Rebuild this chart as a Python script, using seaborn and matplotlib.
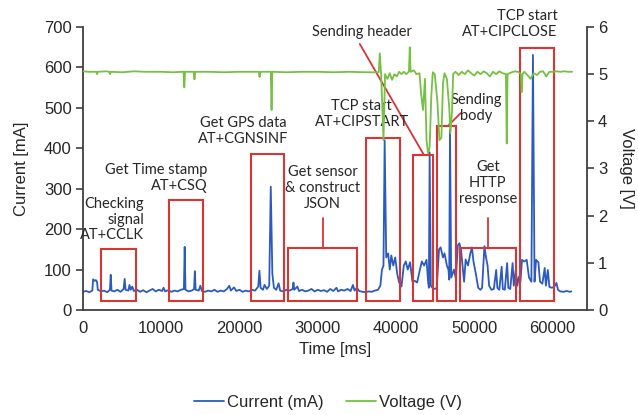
import matplotlib
matplotlib.use("Agg")
import matplotlib.pyplot as plt
from matplotlib.patches import Rectangle
import seaborn as sns
import pandas as pd

# --- measured current trace (time in ms, current in mA) ---
current_time = [
    0, 400, 800, 1200, 1300, 1500, 1650, 1800, 1900, 2300, 2700, 3100, 3450, 3550, 3650,
    4000, 4400, 4800, 5200, 5330, 5450, 5800, 5950, 6100, 6300, 6500, 6900, 7300, 7700,
    8100, 8500, 8900, 9300, 9700, 10100, 10300, 10500, 10900, 11300, 11700, 12100, 12500,
    12900, 13000, 13100, 13500, 13900, 14200, 14300, 14400, 14800, 15000, 15200, 15600,
    16000, 16400, 16800, 17200, 17600, 18000, 18400, 18700, 18900, 19300, 19600, 20000,
    20400, 20800, 21200, 21600, 22000, 22400, 22550, 22700, 23000, 23200, 23500, 23800,
    24000, 24200, 24400, 24700, 25000, 25200, 25600, 26000, 26400, 26800, 26900, 27000,
    27400, 27600, 28000, 28400, 28800, 29200, 29600, 30000, 30400, 30800, 31200, 31600,
    32000, 32400, 32600, 33000, 33400, 33800, 34200, 34500, 34700, 35000, 35300, 35700,
    36100, 36500, 36900, 37300, 37700, 38000, 38200, 38400, 38550, 38750, 39000, 39200,
    39400, 39650, 39900, 40150, 40400, 40700, 41000, 41250, 41500, 41800, 42100, 42400,
    42700, 43000, 43300, 43600, 43900, 44100, 44200, 44300, 44450, 44650, 44900, 45200,
    45500, 45700, 46000, 46200, 46500, 46700, 46800, 46900, 47050, 47400, 47650, 47900,
    48100, 48300, 48500, 48700, 48900, 49200, 49500, 49700, 49900, 50200, 50500, 50800,
    51000, 51300, 51500, 51700, 51900, 52200, 52500, 52800, 52950, 53200, 53500, 53650,
    53900, 54200, 54350, 54600, 54900, 55050, 55300, 55500, 55700, 55900, 56100, 56400,
    56700, 57000, 57300, 57500, 57700, 57900, 58200, 58400, 58700, 59000, 59150, 59400,
    59600, 59900, 60200, 60500, 60700, 61000, 61400, 61800, 62200, 62400,
]
current_ma = [
    45, 47, 44, 48, 76, 72, 74, 70, 50, 46, 48, 44, 50, 87, 48,
    46, 50, 45, 52, 77, 50, 48, 62, 50, 58, 47, 50, 45, 49,
    44, 48, 52, 46, 50, 47, 55, 46, 49, 45, 48, 46, 50,
    52, 156, 50, 46, 48, 52, 96, 50, 48, 60, 47, 45,
    48, 46, 50, 45, 48, 46, 52, 60, 48, 56, 47, 50,
    45, 48, 46, 50, 48, 58, 97, 55, 50, 62, 52, 60,
    305, 90, 55, 50, 66, 48, 46, 50, 48, 52, 68, 50,
    58, 47, 50, 46, 48, 52, 46, 50, 47, 49, 45, 52,
    47, 55, 46, 50, 48, 52, 47, 62, 48, 55, 47, 45,
    44, 46, 45, 48, 50, 60, 99, 110, 420, 130, 140, 100,
    135, 110, 130, 90, 68, 58, 110, 120, 100, 118, 70, 72,
    68, 95, 120, 110, 124, 70, 55, 390, 60, 55, 52, 54,
    150, 155, 130, 140, 110, 100, 75, 445, 80, 100, 78, 160,
    165, 150, 110, 70, 125, 110, 140, 155, 120, 90, 55, 50,
    55, 158, 130, 110, 60, 50, 52, 99, 55, 50, 107, 52,
    50, 116, 55, 52, 116, 60, 99, 60, 82, 70, 124, 120,
    124, 80, 70, 631, 70, 124, 118, 70, 65, 104, 60, 99,
    57, 55, 57, 67, 50, 46, 45, 47, 45, 46,
]

# --- measured supply voltage trace (time in ms, voltage in V) ---
voltage_time = [
    0, 800, 1700, 1800, 1900, 3000, 3360, 3460, 3560, 5000, 6500, 8000, 10000, 11500,
    12850, 12950, 13050, 14150, 14250, 14350, 16000, 18000, 20000, 22470, 22570, 22670,
    24000, 24100, 24200, 26000, 28000, 30000, 32000, 34000, 36000, 37800, 37930, 38100,
    38400, 38600, 38900, 39200, 39500, 39800, 40100, 40400, 40700, 41000, 41300, 41650,
    41760, 41870, 42300, 42600, 43000, 43200, 43450, 43700, 43900, 44100, 44300, 44500,
    44700, 44950, 45300, 45550, 45800, 46000, 46200, 46500, 46800, 46950, 47150, 47300,
    47600, 48000, 48400, 48800, 49200, 49600, 50000, 50400, 50800, 51200, 51600, 52000,
    52400, 52800, 53200, 53600, 54050, 54150, 54250, 54800, 55200, 55600, 55960, 56060,
    56160, 56400, 56800, 57200, 57600, 58000, 58400, 58800, 59200, 59600, 60000, 60500,
    61000, 61500, 62000, 62500,
]
voltage_v = [
    5.06, 5.05, 5.05, 5.00, 5.05, 5.06, 5.05, 5.00, 5.05, 5.04, 5.06, 5.05, 5.05, 5.04,
    5.05, 4.72, 5.05, 5.05, 4.89, 5.05, 5.05, 5.04, 5.05, 5.05, 4.94, 5.05,
    5.05, 4.24, 5.05, 5.04, 5.05, 5.05, 5.04, 5.05, 5.04, 5.04, 5.44, 5.00,
    3.60, 5.00, 4.90, 5.02, 4.88, 5.00, 4.95, 5.05, 5.00, 5.05, 5.00, 5.05,
    5.57, 5.05, 5.08, 5.00, 5.02, 4.60, 4.24, 4.90, 3.60, 3.32, 3.45, 4.50,
    5.04, 5.00, 4.40, 3.60, 3.65, 4.80, 5.02, 4.90, 4.30, 3.75, 4.20, 5.00,
    5.05, 4.98, 5.05, 5.00, 5.08, 5.02, 4.97, 5.05, 5.00, 5.06, 5.02, 4.95,
    5.05, 5.00, 5.06, 5.02, 5.00, 3.53, 5.00, 5.04, 5.06, 5.05, 5.00, 4.62,
    5.00, 5.05, 4.98, 4.90, 5.02, 4.98, 5.05, 5.06, 4.95, 5.05, 5.05, 5.06,
    5.05, 5.06, 5.05, 5.05,
]

# --- firmware phases: label, start (ms), end (ms), box top (mA) ---
phase_names = ["Checking signal", "Get Time stamp", "Get GPS data", "Get sensor",
               "TCP start", "Sending header", "Sending body", "HTTP response", "TCP close"]
phase_start = [2300, 10980, 21450, 26180, 36140, 42140, 45210, 48140, 55800]
phase_end = [6770, 15320, 25670, 34990, 40480, 44700, 47630, 55290, 60150]
phase_top = [150, 272, 386, 153, 426, 384, 455, 153, 649]
phase_floor = 22

x_ticks = [0, 10000, 20000, 30000, 40000, 50000, 60000]
current_ticks = [0, 100, 200, 300, 400, 500, 600, 700]
voltage_ticks = [0, 1, 2, 3, 4, 5, 6]

BLUE = "#2C5BC0"
GREEN = "#76C043"
RED = "#D93535"
AXIS = "#404040"
TEXT = "#262626"

sns.set_style("white")
plt.rcParams["font.family"] = ["Liberation Sans", "DejaVu Sans"]
ANNOT_FONT = ["Lato", "DejaVu Sans"]

fig = plt.figure(figsize=(6.38, 4.15), dpi=100)
ax = fig.add_axes([0.130, 0.253, 0.790, 0.682])
ax2 = ax.twinx()

cur = pd.DataFrame({"t": current_time, "mA": current_ma})
vol = pd.DataFrame({"t": voltage_time, "V": voltage_v})
sns.lineplot(data=cur, x="t", y="mA", ax=ax, color=BLUE, lw=1.3, legend=False)
sns.lineplot(data=vol, x="t", y="V", ax=ax2, color=GREEN, lw=1.3, legend=False)

ax.set_xlim(0, 64400)
ax.set_ylim(0, 700)
ax2.set_ylim(0, 6)
ax.set_xticks(x_ticks)
ax.set_yticks(current_ticks)
ax2.set_yticks(voltage_ticks)

for a in (ax, ax2):
    a.tick_params(direction="out", length=5, width=1.2, color=AXIS,
                  labelsize=12, labelcolor=TEXT, pad=3)
    a.spines["top"].set_visible(False)
    for s in a.spines.values():
        s.set_color(AXIS)
        s.set_linewidth(1.3)
ax.spines["right"].set_visible(False)
ax2.spines["left"].set_visible(False)
ax2.spines["bottom"].set_visible(False)

ax.set_xlabel("Time [ms]", fontsize=12, color=TEXT, labelpad=4)
ax.set_ylabel("Current [mA]", fontsize=12, color=TEXT, labelpad=11)
ax2.set_ylabel("Voltage [V]", fontsize=12, color=TEXT, rotation=270, labelpad=19)

# phase boxes
for s, e, top in zip(phase_start, phase_end, phase_top):
    ax.add_patch(Rectangle((s, phase_floor), e - s, top - phase_floor, fill=False,
                           edgecolor=RED, lw=1.5, zorder=5))

def note(txt, x, y, ha="center"):
    ax.text(x, y, txt, ha=ha, va="center", multialignment=ha, fontsize=10.5,
            family=ANNOT_FONT, color=TEXT, linespacing=1.15, zorder=6, clip_on=False)

note("Checking\nsignal\nAT+CCLK", 7790, 223, ha="right")
note("Get Time stamp\nAT+CSQ", 15960, 327, ha="right")
note("Get GPS data\nAT+CGNSINF", 20430, 443)
note("Get sensor\n& construct\nJSON", 30650, 302)
note("TCP start\nAT+CIPSTART", 35630, 485)
note("Sending header", 35630, 688)
note("Sending\nbody", 50300, 500)
note("Get\nHTTP\nresponse", 51720, 314)
note("TCP start\nAT+CIPCLOSE", 60660, 707, ha="right")

# leader lines from labels to boxes
ax.plot([30650, 30650], [228, 153], color=RED, lw=1.3, zorder=5)
ax.plot([51720, 51720], [228, 153], color=RED, lw=1.3, zorder=5)
ax.plot([35370, 43550], [658, 384], color=RED, lw=1.3, zorder=5, clip_on=False)
ax.plot([48270, 46610], [487, 455], color=RED, lw=1.3, zorder=5)

handles = [ax.get_lines()[0], ax2.get_lines()[0]]
fig.legend(handles, ["Current (mA)", "Voltage (V)"], loc="center",
           bbox_to_anchor=(0.514, 0.031), ncol=2, frameon=False, fontsize=12,
           handlelength=1.8, handletextpad=0.2, columnspacing=1.3,
           labelcolor=TEXT)

fig.savefig("out.png", dpi=100)
